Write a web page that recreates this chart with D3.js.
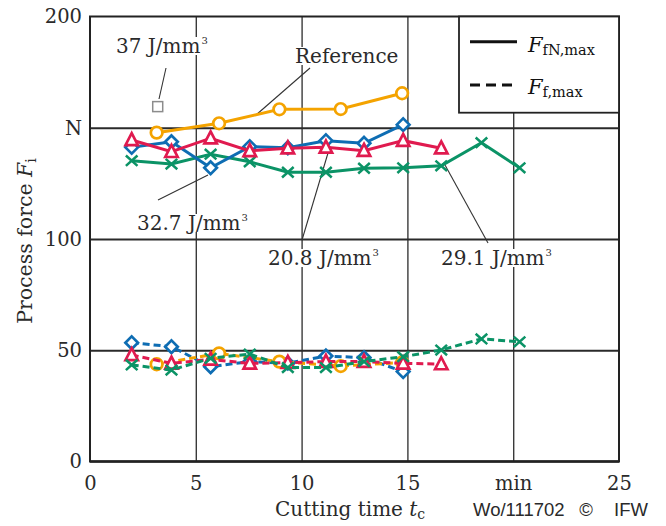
<!DOCTYPE html>
<html>
<head>
<meta charset="utf-8">
<script src="https://cdn.jsdelivr.net/npm/d3@7"></script>
<style>
  html, body { margin: 0; padding: 0; background: #fff; }
  svg { display: block; }
</style>
</head>
<body>
<svg id="chart" width="666" height="526"></svg>
<script>
// ---------------- data ----------------
const timesA = [1.97, 3.85, 5.7, 7.55, 9.35, 11.15, 12.95, 14.8, 16.6, 18.5, 20.3];
const timesRef = [3.15, 6.1, 8.95, 11.85, 14.75];

const refN   = [147.8, 152.0, 158.3, 158.4, 165.5];
const refF   = [43.7, 48.6, 44.9, 42.9, 44.5];
const blueN  = [141.2, 143.7, 132.0, 141.5, 141.0, 144.2, 143.0, 151.4];
const blueF  = [53.4, 51.6, 42.6, 44.9, 44.2, 47.4, 46.7, 40.4];
const redN   = [144.5, 139.2, 145.3, 139.6, 140.8, 141.2, 139.7, 144.2, 140.8];
const redF   = [47.9, 44.1, 45.9, 44.1, 44.4, 44.9, 44.9, 44.1, 43.8];
const greenN = [135.2, 133.7, 138.1, 134.7, 130.0, 130.0, 131.8, 132.0, 132.9, 143.3, 132.0];
const greenF = [43.4, 41.1, 46.4, 48.3, 42.2, 42.2, 44.9, 47.1, 50.1, 55.1, 53.8];
const squarePoint = [3.2, 159.5];

const xTicks = [0, 5, 10, 15, 20, 25];
const xTickLabels = ["0", "5", "10", "15", "min", "25"];
const yTicks = [0, 50, 100, 150, 200];
const yTickLabels = ["0", "50", "100", "N", "200"];

// ---------------- setup ----------------
const svg = d3.select("#chart");
const serif = "'DejaVu Serif', serif";
const ink = "#2a2a2a";
const colors = { ref: "#f4a300", blue: "#0e6db3", red: "#e01a4f", green: "#0b9366", gray: "#8c8c8c" };

const x = d3.scaleLinear().domain([0, 25]).range([90, 619]);
const y = d3.scaleLinear().domain([0, 200]).range([461.5, 16.5]);
const [x0, x1] = x.range();
const [yb, yt] = y.range();

// gridlines
const gx = svg.append("g").attr("transform", `translate(0,${yb})`)
  .call(d3.axisBottom(x).tickValues([5, 10, 15, 20]).tickSize(-(yb - yt)).tickFormat(""));
gx.select(".domain").remove();
gx.selectAll("line").attr("stroke", "#3a3a3a").attr("stroke-width", 1.4);

const gy = svg.append("g").attr("transform", `translate(${x0},0)`)
  .call(d3.axisLeft(y).tickValues([50, 100, 150]).tickSize(-(x1 - x0)).tickFormat(""));
gy.select(".domain").remove();
gy.selectAll("line").attr("stroke", "#2a2a2a").attr("stroke-width", 2);

// frame
svg.append("rect").attr("x", x0).attr("y", yt).attr("width", x1 - x0).attr("height", yb - yt)
  .attr("fill", "none").attr("stroke", "#222").attr("stroke-width", 2);
svg.append("line").attr("x1", x0).attr("x2", x1).attr("y1", yb).attr("y2", yb)
  .attr("stroke", "#222").attr("stroke-width", 2.6);

// axes labels
const ax = svg.append("g").attr("transform", `translate(0,${yb})`)
  .call(d3.axisBottom(x).tickValues(xTicks).tickSize(0).tickFormat((d, i) => xTickLabels[i]));
ax.select(".domain").remove();
ax.selectAll("text").attr("dy", null).attr("y", 28)
  .attr("font-family", serif).attr("font-size", 19.5).attr("fill", ink);

const ay = svg.append("g").attr("transform", `translate(${x0},0)`)
  .call(d3.axisLeft(y).tickValues(yTicks).tickSize(0).tickPadding(8).tickFormat((d, i) => yTickLabels[i]));
ay.select(".domain").remove();
ay.selectAll("text").attr("font-family", serif).attr("font-size", 19.5).attr("fill", ink);

// axis titles
const xt = svg.append("text").attr("x", 275).attr("y", 516)
  .attr("font-family", serif).attr("font-size", 20).attr("fill", ink);
xt.append("tspan").text("Cutting time ");
xt.append("tspan").attr("font-style", "italic").text("t");
xt.append("tspan").attr("font-size", 14).attr("dy", 3).text("c");

const sans = "'Liberation Sans', Arial, sans-serif";
svg.append("text").attr("x", 473).attr("y", 516).attr("font-family", sans).attr("font-size", 18.5)
  .attr("fill", ink).text("Wo/111702");
svg.append("text").attr("x", 586).attr("y", 516).attr("text-anchor", "middle").attr("font-family", sans)
  .attr("font-size", 18.5).attr("fill", ink).text("©");
svg.append("text").attr("x", 648).attr("y", 516).attr("text-anchor", "end").attr("font-family", sans)
  .attr("font-size", 18.5).attr("fill", ink).text("IFW");

const yl = svg.append("text").attr("transform", "translate(32,241) rotate(-90)")
  .attr("text-anchor", "middle").attr("font-family", serif).attr("font-size", 20.5).attr("fill", ink);
yl.append("tspan").text("Process force ");
yl.append("tspan").attr("font-style", "italic").text("F");
yl.append("tspan").attr("font-size", 14).attr("dy", 4).text("i");

// legend box
svg.append("rect").attr("x", 459).attr("y", yt).attr("width", x1 - 459).attr("height", 112.7 - yt)
  .attr("fill", "#fff").attr("stroke", "#222").attr("stroke-width", 1.8);
svg.append("line").attr("x1", 470).attr("x2", 517).attr("y1", 41.7).attr("y2", 41.7)
  .attr("stroke", "#111").attr("stroke-width", 3);
svg.append("line").attr("x1", 470).attr("x2", 517).attr("y1", 85).attr("y2", 85)
  .attr("stroke", "#111").attr("stroke-width", 3).attr("stroke-dasharray", "10,6");
const l1 = svg.append("text").attr("x", 528).attr("y", 52).attr("font-family", serif).attr("font-size", 21).attr("fill", "#111");
l1.append("tspan").attr("font-style", "italic").text("F");
l1.append("tspan").attr("font-size", 14.5).attr("dy", 3).text("fN,max");
const l2 = svg.append("text").attr("x", 528).attr("y", 94).attr("font-family", serif).attr("font-size", 21).attr("fill", "#111");
l2.append("tspan").attr("font-style", "italic").text("F");
l2.append("tspan").attr("font-size", 14.5).attr("dy", 3).text("f,max");

// annotations (leader lines + labels with white backgrounds)
const leaders = [
  [166, 68, 159, 99], [310, 68, 256, 115], [208, 175, 158, 200],
  [328, 153, 302, 240], [445, 165, 488, 243]
];
leaders.forEach(l => svg.append("line").attr("x1", l[0]).attr("y1", l[1]).attr("x2", l[2]).attr("y2", l[3])
  .attr("stroke", "#333").attr("stroke-width", 1.1));

const annots = [
  { x: 116, y: 53, t: "37 J/mm", sup: true },
  { x: 295, y: 63, t: "Reference", sup: false },
  { x: 137, y: 230, t: "32.7 J/mm", sup: true },
  { x: 268, y: 265, t: "20.8 J/mm", sup: true },
  { x: 441, y: 265, t: "29.1 J/mm", sup: true }
];
annots.forEach(a => {
  const g = svg.append("g");
  const bg = g.append("rect").attr("fill", "#fff");
  const t = g.append("text").attr("x", a.x).attr("y", a.y).attr("font-family", serif)
    .attr("font-size", 20).attr("fill", ink);
  t.append("tspan").text(a.t);
  if (a.sup) t.append("tspan").attr("font-size", 10).attr("dx", 1).attr("dy", -9).text("3");
  const b = t.node().getBBox();
  bg.attr("x", b.x - 2).attr("y", b.y + 3).attr("width", b.width + 4).attr("height", b.height - 6);
});

// ---------------- series ----------------
const lineGen = d3.line().x(d => x(d[0])).y(d => y(d[1]));
const zip = (ts, vs) => vs.map((v, i) => [ts[i], v]);

function drawMarker(g, kind, color, px, py) {
  const s = 6.3;
  if (kind === "circle") {
    g.append("circle").attr("cx", px).attr("cy", py).attr("r", 5.8)
      .attr("fill", "#fff").attr("stroke", color).attr("stroke-width", 2.7);
  } else if (kind === "diamond") {
    g.append("path").attr("d", `M${px},${py - s}L${px + s},${py}L${px},${py + s}L${px - s},${py}Z`)
      .attr("fill", "#fff").attr("stroke", color).attr("stroke-width", 2.7);
  } else if (kind === "triangle") {
    g.append("path").attr("d", `M${px},${py - 6.8}L${px + 6.2},${py + 5.2}L${px - 6.2},${py + 5.2}Z`)
      .attr("fill", "#fff").attr("stroke", color).attr("stroke-width", 2.7).attr("stroke-linejoin", "miter");
  } else if (kind === "x") {
    g.append("path").attr("d", `M${px - 5.8},${py - 5.2}L${px + 5.8},${py + 5.2}M${px - 5.8},${py + 5.2}L${px + 5.8},${py - 5.2}`)
      .attr("stroke", color).attr("stroke-width", 2.5).attr("fill", "none");
  }
}

function drawSeries(ts, vs, color, kind, dashed) {
  const pts = zip(ts, vs);
  const g = svg.append("g");
  g.append("path").attr("d", lineGen(pts)).attr("fill", "none").attr("stroke", color)
    .attr("stroke-width", 3).attr("stroke-dasharray", dashed ? "7,4" : null);
  pts.forEach(p => drawMarker(g, kind, color, x(p[0]), y(p[1])));
}

// F_f,max (dashed)
drawSeries(timesA, blueF, colors.blue, "diamond", true);
drawSeries(timesRef, refF, colors.ref, "circle", true);
drawSeries(timesA, redF, colors.red, "triangle", true);
drawSeries(timesA, greenF, colors.green, "x", true);

// F_fN,max (solid)
drawSeries(timesA, greenN, colors.green, "x", false);
drawSeries(timesA, blueN, colors.blue, "diamond", false);
drawSeries(timesA, redN, colors.red, "triangle", false);
drawSeries(timesRef, refN, colors.ref, "circle", false);

// 37 J/mm³ single point
svg.append("rect").attr("x", x(squarePoint[0]) - 5).attr("y", y(squarePoint[1]) - 5)
  .attr("width", 10).attr("height", 10).attr("fill", "#fff")
  .attr("stroke", colors.gray).attr("stroke-width", 1.5);
</script>
</body>
</html>
